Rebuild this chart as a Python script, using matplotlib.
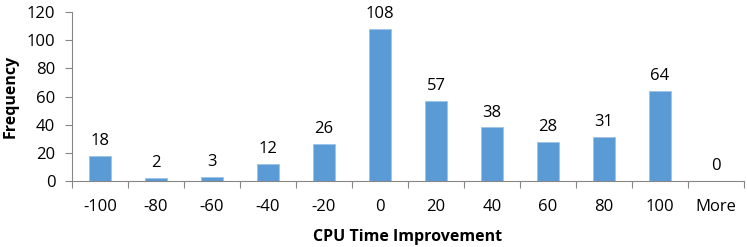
import matplotlib
matplotlib.use("Agg")
import matplotlib.pyplot as plt
import numpy as np

categories = ["-100", "-80", "-60", "-40", "-20", "0", "20", "40", "60", "80", "100", "More"]
frequency = [18, 2, 3, 12, 26, 108, 57, 38, 28, 31, 64, 0]

plt.rcParams['font.family'] = ['Open Sans', 'DejaVu Sans']

fig = plt.figure(figsize=(7.47, 2.47), dpi=100)
ax = fig.add_axes([72/747, 66/247, 672/747, 169/247])

x = np.arange(len(categories))
bars = ax.bar(x, frequency, width=0.41, color="#5B9BD5", edgecolor="#9DC3E6", linewidth=0.6, zorder=2)
for xi, v in zip(x, frequency):
    ax.annotate(str(v), (xi, v), xytext=(0, 5), textcoords="offset points",
                ha="center", va="bottom", fontsize=12, color="#000000")

ax.set_xlim(-0.5, len(categories) - 0.5)
ax.set_ylim(0, 120)
ax.set_yticks(np.arange(0, 121, 20))
ax.set_xticks(x)
ax.set_xticklabels(categories)
ax.set_xticks(np.arange(-0.5, len(categories), 1), minor=True)
ax.tick_params(axis="x", which="major", length=0, labelsize=12, pad=13)
ax.tick_params(axis="x", which="minor", length=5, color="#868686", width=0.8)
ax.tick_params(axis="y", length=5, color="#868686", width=0.8, labelsize=12, pad=7)

for s in ["top", "right"]:
    ax.spines[s].set_visible(False)
for s in ["left", "bottom"]:
    ax.spines[s].set_color("#868686")
    ax.spines[s].set_linewidth(0.8)

ax.set_ylabel("Frequency", fontsize=11.5, fontweight="bold", labelpad=6)
ax.set_xlabel("CPU Time Improvement", fontsize=11.5, fontweight="bold", labelpad=10)

fig.savefig("out.png", dpi=100)
